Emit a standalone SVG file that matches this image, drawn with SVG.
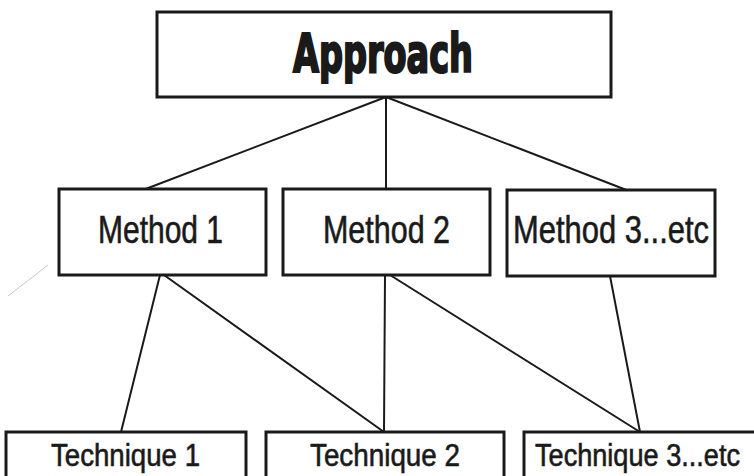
<svg xmlns="http://www.w3.org/2000/svg" width="754" height="476" viewBox="0 0 754 476">
<style>
.box{fill:#fff;stroke:#1a1a1a;stroke-width:3}
.lbl{font-family:"Liberation Sans","Arial",sans-serif;fill:#1a1a1a;stroke:#1a1a1a;stroke-width:0.6}
.m{font-size:38px}
.t{font-size:31px}
.conn line{stroke:#1a1a1a;stroke-width:2;stroke-linecap:round}
</style>
<rect width="754" height="476" fill="#fff"/>
<line x1="8" y1="296" x2="48" y2="265" stroke="#c8c8c8" stroke-width="1"/>
<g class="conn">
<line x1="386" y1="97" x2="143" y2="190"/>
<line x1="386" y1="97" x2="386" y2="190"/>
<line x1="386" y1="97" x2="629" y2="191"/>
<line x1="160" y1="275" x2="121" y2="432"/>
<line x1="164" y1="275" x2="384" y2="432"/>
<line x1="385" y1="275" x2="384" y2="432"/>
<line x1="390" y1="275" x2="640" y2="432"/>
<line x1="610" y1="276" x2="640" y2="432"/>
</g>
<g id="approach">
<rect class="box" x="157" y="12" width="454" height="85"/>
<text x="293" y="72" style="font-family:'DejaVu Sans Condensed','DejaVu Sans',sans-serif;font-weight:900;font-size:53px;fill:#1a1a1a;stroke:#1a1a1a;stroke-width:2.2" textLength="180" lengthAdjust="spacingAndGlyphs">Approach</text>
</g>
<g id="method1">
<rect class="box" x="59" y="189" width="207" height="86"/>
<text class="lbl m" x="98" y="243" textLength="125" lengthAdjust="spacingAndGlyphs">Method 1</text>
</g>
<g id="method2">
<rect class="box" x="283" y="189" width="207" height="86"/>
<text class="lbl m" x="323" y="243" textLength="127" lengthAdjust="spacingAndGlyphs">Method 2</text>
</g>
<g id="method3">
<rect class="box" x="507" y="190" width="208" height="86"/>
<text class="lbl m" x="513" y="243" textLength="196" lengthAdjust="spacingAndGlyphs">Method 3...etc</text>
</g>
<g id="technique1">
<rect class="box" x="6" y="432" width="240" height="60"/>
<text class="lbl t" x="51" y="466" textLength="149" lengthAdjust="spacingAndGlyphs">Technique 1</text>
</g>
<g id="technique2">
<rect class="box" x="266" y="432" width="238" height="60"/>
<text class="lbl t" x="310" y="466" textLength="150" lengthAdjust="spacingAndGlyphs">Technique 2</text>
</g>
<g id="technique3">
<rect class="box" x="524" y="432" width="250" height="60"/>
<text class="lbl t" x="535" y="466" textLength="205" lengthAdjust="spacingAndGlyphs">Technique 3...etc</text>
</g>
</svg>
